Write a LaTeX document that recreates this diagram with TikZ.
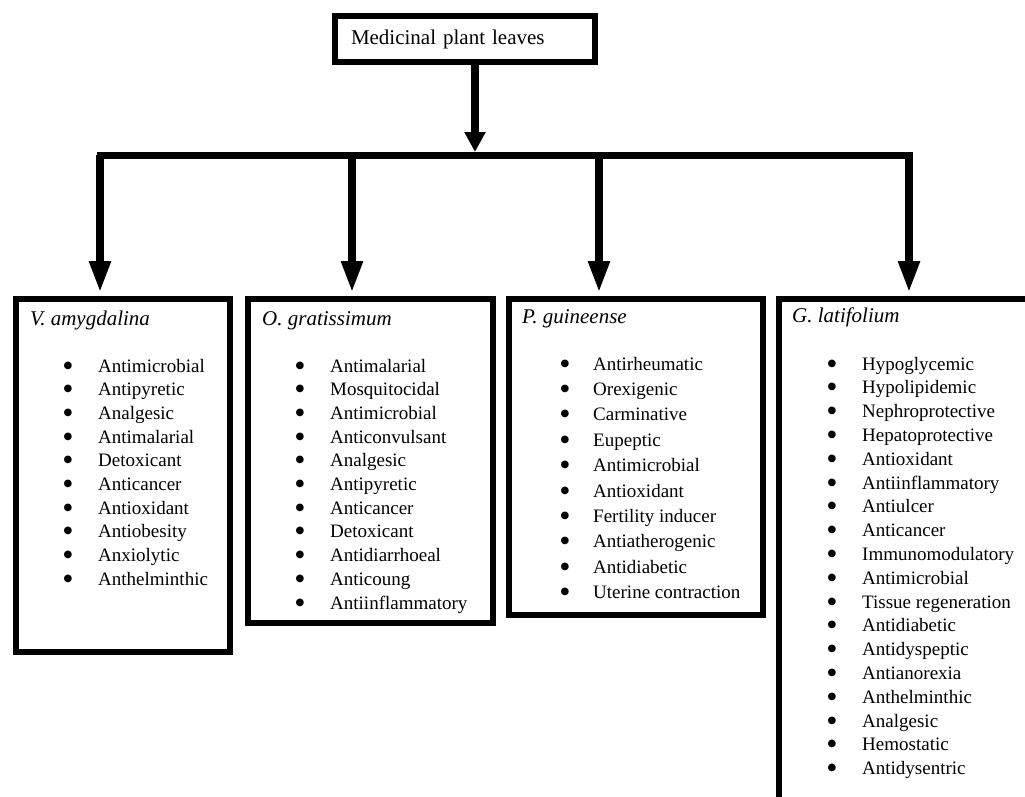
\documentclass[tikz,border=0pt]{standalone}
\usepackage{fontspec}
\setmainfont{Liberation Serif}
\newfontfamily\symfont{DejaVu Sans}
\usetikzlibrary{arrows.meta}
\begin{document}
\begin{tikzpicture}[x=1pt,y=-1pt,
  box/.style={draw, line width=6pt, inner sep=0pt, anchor=north west},
  item/.style={anchor=base west, inner sep=0pt, font=\fontsize{19}{23}\selectfont},
  ttl/.style={anchor=base west, inner sep=0pt, font=\fontsize{21}{25}\selectfont\itshape},
  bar/.style={line width=7pt, line cap=rect},
  down/.style={line width=8pt, -{Triangle[length=32pt,width=20pt]}},
  bul/.style={inner sep=0pt, anchor=center, font=\symfont\fontsize{10}{12}\selectfont},
]
\useasboundingbox (0,0) rectangle (1025,796);
\clip (0,0) rectangle (1025,796);

% top box
\node[draw, line width=6pt, minimum width=260pt, minimum height=46pt,
      text width=228pt, inner xsep=16pt, align=left,
      font=\fontsize{21}{25}\selectfont] (top) at (465,39) {Medicinal plant leaves};

% child boxes
\node[box, minimum width=214pt, minimum height=353pt] (vbox) at (13,296) {};
\node[box, minimum width=245pt, minimum height=324pt] (obox) at (245,296) {};
\node[box, minimum width=254pt, minimum height=316pt] (pbox) at (506,296) {};
\node[box, minimum width=300pt, minimum height=600pt] (gbox) at (776,296) {};

% titles
\node[ttl] (vt) at (30,325) {V. amygdalina};
\node[ttl] (ot) at (262,325) {O. gratissimum};
\node[ttl] (pt) at (522,323) {P. guineense};
\node[ttl] (gt) at (792,322) {G. latifolium};

% items
\foreach \t [count=\i from 0] in {Antimicrobial,Antipyretic,Analgesic,Antimalarial,Detoxicant,Anticancer,Antioxidant,Antiobesity,Anxiolytic,Anthelminthic}{
  \node[item] (v\i) at (98,{372+23.7*\i}) {\t};
  \node[bul] (vb\i) at (68,{365.5+23.7*\i}) {●};}
\foreach \t [count=\i from 0] in {Antimalarial,Mosquitocidal,Antimicrobial,Anticonvulsant,Analgesic,Antipyretic,Anticancer,Detoxicant,Antidiarrhoeal,Anticoung,Antiinflammatory}{
  \node[item] (o\i) at (330,{372+23.7*\i}) {\t};
  \node[bul] (ob\i) at (300,{365.5+23.7*\i}) {●};}
\foreach \t [count=\i from 0] in {Antirheumatic,Orexigenic,Carminative,Eupeptic,Antimicrobial,Antioxidant,Fertility inducer,Antiatherogenic,Antidiabetic,Uterine contraction}{
  \node[item] (p\i) at (593,{370+25.4*\i}) {\t};
  \node[bul] (pb\i) at (565,{363.5+25.4*\i}) {●};}
\foreach \t [count=\i from 0] in {Hypoglycemic,Hypolipidemic,Nephroprotective,Hepatoprotective,Antioxidant,Antiinflammatory,Antiulcer,Anticancer,Immunomodulatory,Antimicrobial,Tissue regeneration,Antidiabetic,Antidyspeptic,Antianorexia,Anthelminthic,Analgesic,Hemostatic,Antidysentric}{
  \node[item] (g\i) at (862,{370+23.8*\i}) {\t};
  \node[bul] (gb\i) at (832,{363.5+23.8*\i}) {●};}

% connectors
\coordinate (jt) at (475,152);
\coordinate (jl) at (100,155);
\coordinate (jo) at (352,155);
\coordinate (jp) at (599,155);
\coordinate (jr) at (909,155);
\draw[bar] (jl) -- (jr);
\draw[line width=8pt, -{Triangle[length=20pt,width=20pt]}] (top.south -| jt) -- (jt);
\draw[down] (jl) -- ([yshift=3pt]jl |- vbox.north);
\draw[down] (jo) -- ([yshift=3pt]jo |- obox.north);
\draw[down] (jp) -- ([yshift=3pt]jp |- pbox.north);
\draw[down] (jr) -- ([yshift=3pt]jr |- gbox.north);
\end{tikzpicture}
\end{document}
